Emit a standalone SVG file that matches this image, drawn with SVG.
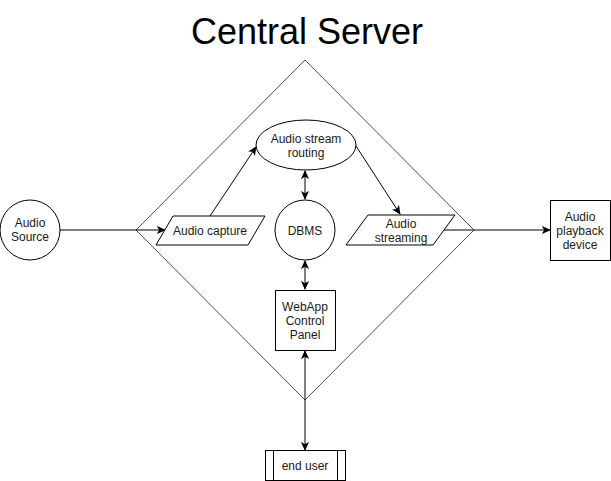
<svg xmlns="http://www.w3.org/2000/svg" width="611" height="481" viewBox="0 0 611 481">
<style>
.s{fill:#fff;stroke:#000;stroke-width:1}
.t{font-family:"Liberation Sans",Arial,sans-serif;font-size:12px;fill:#1a1a1a;text-anchor:middle}
.c{fill:none;stroke:#000;stroke-width:1}
.d{fill:none;stroke:#000;stroke-width:0.7}
</style>
<defs>
<marker id="ah" viewBox="0 0 10 10" refX="9" refY="5" markerWidth="9" markerHeight="9" markerUnits="userSpaceOnUse" orient="auto-start-reverse">
<path d="M0,0.5 L10,5 L0,9.5 L2.5,5 z" fill="#000"/>
</marker>
</defs>
<rect width="611" height="481" fill="#fff"/>
<g id="title"><text x="307" y="44" style="font-family:'Liberation Sans',Arial,sans-serif;font-size:36px;fill:#000;text-anchor:middle">Central Server</text></g>
<g id="server"><path class="d" d="M305,60 L474,230 L305,400 L136,230 Z"/></g>
<g id="connectors">
<path class="c" d="M60,230 L165,230" marker-end="url(#ah)"/>
<path class="c" d="M210,216 L256,147" marker-end="url(#ah)"/>
<path class="c" d="M356,146 L400,214" marker-end="url(#ah)"/>
<path class="c" d="M305,171 L305,199" marker-start="url(#ah)" marker-end="url(#ah)"/>
<path class="c" d="M305,261 L305,289" marker-start="url(#ah)" marker-end="url(#ah)"/>
<path class="c" d="M444,230 L550,230" marker-end="url(#ah)"/>
<path class="c" d="M305,351 L305,450" marker-start="url(#ah)" marker-end="url(#ah)"/>
</g>
<g id="audio-source"><circle class="s" cx="30" cy="230" r="30"/><text class="t" x="30" y="227">Audio</text><text class="t" x="30" y="241">Source</text></g>
<g id="audio-capture"><path class="s" d="M173,216 L265,216 L248,245 L156,245 Z"/><text class="t" x="210" y="235">Audio capture</text></g>
<g id="audio-routing"><ellipse class="s" cx="306" cy="145" rx="50" ry="25"/><text class="t" x="306" y="143">Audio stream</text><text class="t" x="306" y="157">routing</text></g>
<g id="dbms"><circle class="s" cx="305" cy="230" r="30"/><text class="t" x="305" y="235">DBMS</text></g>
<g id="audio-streaming"><path class="s" d="M368,215 L455,215 L433,245 L346,245 Z"/><text class="t" x="401" y="228">Audio</text><text class="t" x="401" y="242">streaming</text></g>
<g id="playback"><rect class="s" x="550.5" y="200.5" width="60" height="60"/><text class="t" x="580" y="221">Audio</text><text class="t" x="580" y="235">playback</text><text class="t" x="580" y="249">device</text></g>
<g id="webapp"><rect class="s" x="275.5" y="290.5" width="60" height="60"/><text class="t" x="305" y="311">WebApp</text><text class="t" x="305" y="325">Control</text><text class="t" x="305" y="339">Panel</text></g>
<g id="end-user"><rect class="s" x="265.5" y="450.5" width="80" height="30"/><path class="c" d="M273.5,450.5 V480.5 M337.5,450.5 V480.5"/><text class="t" x="305" y="470">end user</text></g>
</svg>
